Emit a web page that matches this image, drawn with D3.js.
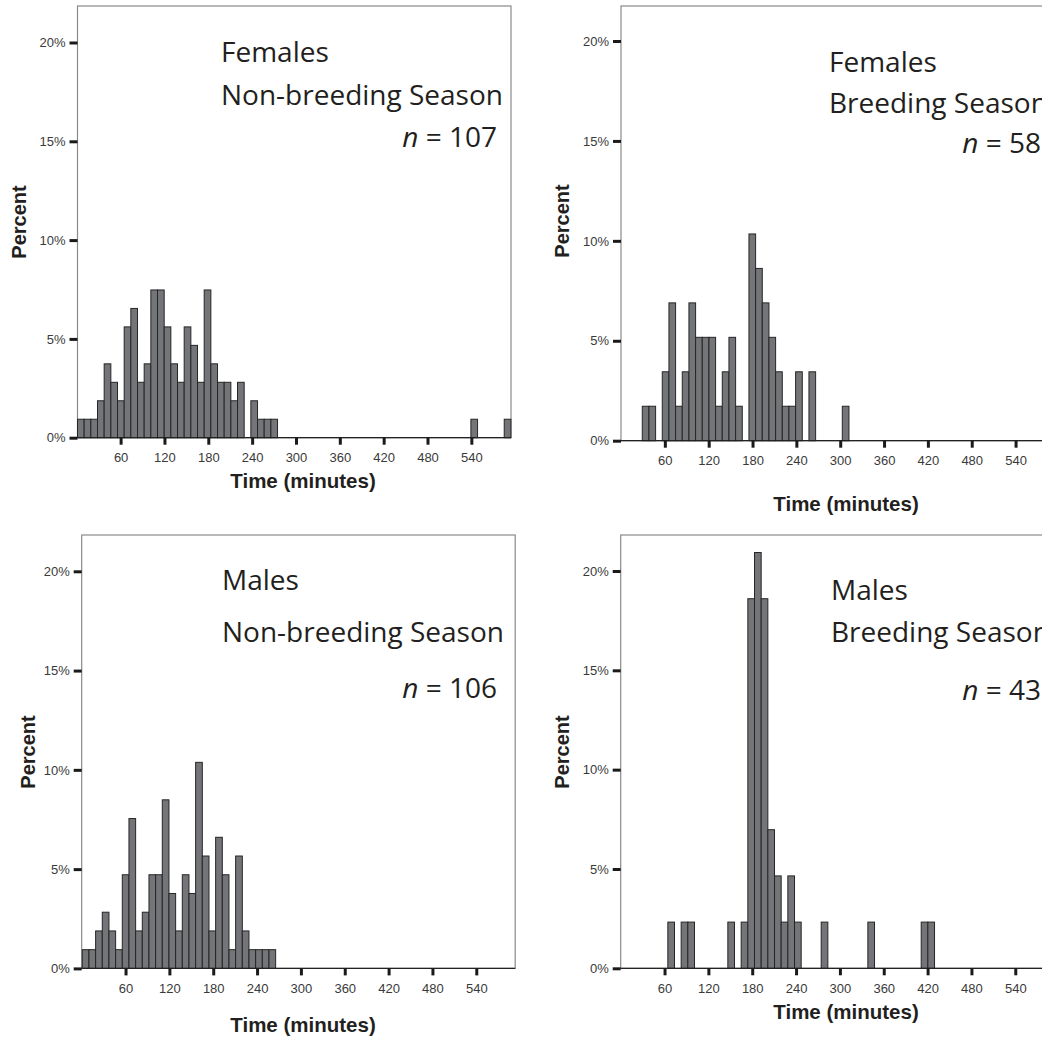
<!DOCTYPE html>
<html><head><meta charset="utf-8">
<script src="https://cdn.jsdelivr.net/npm/d3@7"></script>
<style>body{margin:0;background:#fff;overflow:hidden}</style>
</head><body>
<svg id="c" width="1042" height="1038" xmlns="http://www.w3.org/2000/svg"></svg>
<script>
// ---------- data ----------
const timeTicks = [60, 120, 180, 240, 300, 360, 420, 480, 540];
const pctTicks = [0, 5, 10, 15, 20];
const binWidth = 9.125; // minutes per bar

// Females, non-breeding season (n = 107), counts per bin from 1 min
const femNonStart = 1;
const femNonCounts = [1,1,1,2,4,3,2,6,7,3,4,8,8,6,4,3,6,5,3,8,4,3,3,2,3,0,2,1,1,1,
  0,0,0,0,0,0,0,0,0,0,0,0,0,0,0,0,0,0,0,0,0,0,0,0,0,0,0,0,0,1,0,0,0,0,1];
const femNonN = 107;

// Females, breeding season (n = 58)
const femBrStart = 29.1;
const femBrCounts = [1,1,0,2,4,1,2,4,3,3,3,1,2,3,1,0,6,5,4,3,2,1,1,2,0,2,0,0,0,0,1];
const femBrN = 58;

// Males, non-breeding season (n = 106)
const malNonStart = 0.8;
const malNonCounts = [1,1,2,3,2,1,5,8,2,3,5,5,9,4,2,5,4,11,6,2,7,5,1,6,2,1,1,1,1];
const malNonN = 106;

// Males, breeding season (n = 43)
const malBrStart = 64.5;
const malBrCounts = [1,0,1,1,0,0,0,0,0,1,0,1,8,9,8,3,2,1,2,1,0,0,0,1,0,0,0,0,0,0,1,0,0,0,0,0,0,0,1,1];
const malBrN = 43;

const sexLabels = ["Females", "Females", "Males", "Males"];
const seasonLabels = ["Non-breeding Season", "Breeding Season", "Non-breeding Season", "Breeding Season"];

// ---------- layout ----------
const panels = [
  {counts: femNonCounts, start: femNonStart, n: femNonN, x0: 1,
   left: 77.5, right: 511, top: 6, bottom: 437.7, y20: 42.5,
   tx: 221, ty: [62, 105, 147], nRight: 497, percent: [19, 222], time: [303, 488]},
  {counts: femBrCounts, start: femBrStart, n: femBrN, x0: 0,
   left: 621, right: 1054.5, top: 6, bottom: 440.7, y20: 41,
   tx: 829, ty: [72, 113, 153], nRight: 1041, percent: [562, 221], time: [846, 511]},
  {counts: malNonCounts, start: malNonStart, n: malNonN, x0: 0,
   left: 81.7, right: 515.2, top: 535, bottom: 968.4, y20: 571.3,
   tx: 222, ty: [590, 642, 698], nRight: 497, percent: [28, 752], time: [303, 1032]},
  {counts: malBrCounts, start: malBrStart, n: malBrN, x0: 0,
   left: 620.7, right: 1054.2, top: 535, bottom: 968.3, y20: 571,
   tx: 831, ty: [600, 642, 700], nRight: 1041, percent: [562, 752], time: [846, 1019]}
];

const svg = d3.select("#c");
const axisFont = "'Liberation Sans', Arial, Helvetica, sans-serif";
const titleFont = "'Open Sans', 'Noto Sans', sans-serif";

panels.forEach((p, i) => {
  const pxPerMin = 0.7307;
  const x = d3.scaleLinear()
    .domain([p.x0, p.x0 + (p.right - p.left) / pxPerMin])
    .range([p.left, p.right]);
  const y = d3.scaleLinear().domain([0, 20]).range([p.bottom, p.y20]);
  const g = svg.append("g");

  // frame
  g.append("rect")
    .attr("x", p.left).attr("y", p.top)
    .attr("width", p.right - p.left).attr("height", p.bottom - p.top)
    .attr("fill", "none").attr("stroke", "#8a8a8a").attr("stroke-width", 1.2);

  // bars
  const bins = p.counts.map((c, k) => ({x0: p.start + k * binWidth, x1: p.start + (k + 1) * binWidth, pct: c / p.n * 100}))
    .filter(d => d.pct > 0);
  g.selectAll("rect.bar").data(bins).join("rect")
    .attr("class", "bar")
    .attr("x", d => x(d.x0))
    .attr("width", d => x(d.x1) - x(d.x0))
    .attr("y", d => y(d.pct))
    .attr("height", d => y(0) - y(d.pct))
    .attr("fill", "#747578")
    .attr("stroke", "#262626")
    .attr("stroke-width", 1);

  // x axis
  const xa = d3.axisBottom(x).tickValues(timeTicks).tickSize(7).tickPadding(8).tickFormat(d3.format("d"));
  const gx = g.append("g").attr("transform", `translate(0,${p.bottom})`).call(xa);
  gx.select(".domain").attr("stroke", "#222").attr("stroke-width", 1.2).attr("d", `M${p.left},0H${p.right}`);
  gx.selectAll(".tick line").attr("stroke", "#1a1a1a").attr("stroke-width", 3);
  gx.selectAll(".tick text").attr("font-family", axisFont).attr("font-size", 13).attr("fill", "#3a3a3a");

  // y axis
  const ya = d3.axisLeft(y).tickValues(pctTicks).tickSize(8).tickPadding(4).tickFormat(d => d + "%");
  const gy = g.append("g").attr("transform", `translate(${p.left},0)`).call(ya);
  gy.select(".domain").remove();
  gy.selectAll(".tick line").attr("stroke", "#1a1a1a").attr("stroke-width", 3);
  gy.selectAll(".tick text").attr("font-family", axisFont).attr("font-size", 13).attr("fill", "#3a3a3a");

  // axis titles
  g.append("text")
    .attr("transform", `translate(${p.percent[0]},${p.percent[1]}) rotate(-90)`)
    .attr("text-anchor", "middle").attr("dominant-baseline", "central")
    .attr("font-family", axisFont).attr("font-weight", "bold").attr("font-size", 20)
    .attr("fill", "#231f20").text("Percent");
  g.append("text")
    .attr("x", p.time[0]).attr("y", p.time[1])
    .attr("text-anchor", "middle")
    .attr("font-family", axisFont).attr("font-weight", "bold").attr("font-size", 20.5)
    .attr("fill", "#231f20").text("Time (minutes)");

  // panel labels
  const lab = g.append("g").attr("font-family", titleFont).attr("font-size", 28).attr("fill", "#231f20");
  lab.append("text").attr("x", p.tx).attr("y", p.ty[0]).text(sexLabels[i]);
  lab.append("text").attr("x", p.tx).attr("y", p.ty[1]).text(seasonLabels[i]);
  const nt = lab.append("text").attr("x", p.nRight).attr("y", p.ty[2]).attr("text-anchor", "end");
  nt.append("tspan").attr("font-style", "italic").text("n");
  nt.append("tspan").text("\u00a0=\u00a0" + p.n);
});
</script>
</body></html>
